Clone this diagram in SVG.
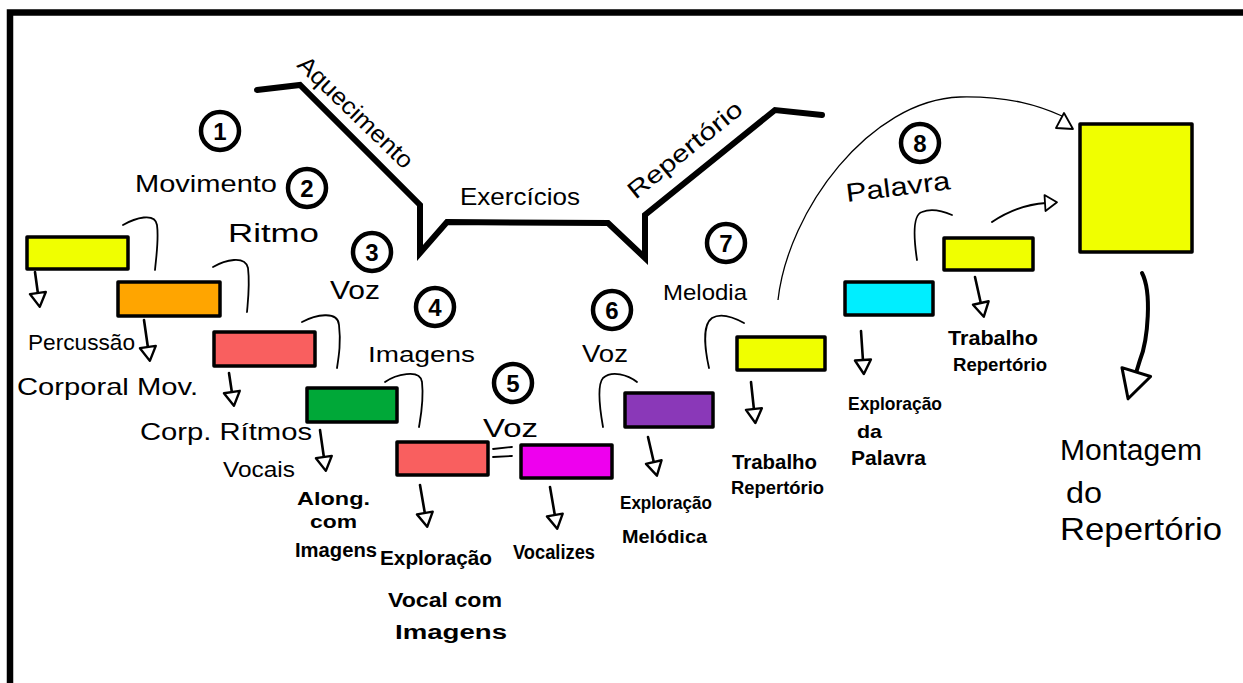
<svg xmlns="http://www.w3.org/2000/svg" width="1243" height="683" viewBox="0 0 1243 683">
<style>
.t{font-family:"Liberation Sans","DejaVu Sans",sans-serif;fill:#000}
.b{font-weight:bold}
.box{stroke:#000;stroke-width:3.5;stroke-linejoin:round}
.num circle{fill:#fff;stroke:#000;stroke-width:4.5}
.num text{font-family:"Liberation Sans","DejaVu Sans",sans-serif;font-weight:bold;font-size:24px;text-anchor:middle}
.hook{fill:none;stroke:#000;stroke-width:1.8;stroke-linecap:round}
.arr{fill:none;stroke:#000;stroke-width:2.6;stroke-linecap:round;marker-end:url(#tri)}
</style>
<defs>
<marker id="tri" markerUnits="userSpaceOnUse" markerWidth="18" markerHeight="20" refX="1" refY="8" orient="auto" overflow="visible">
<path d="M0,0 L14,8 L0,16 Z" fill="#fff" stroke="#000" stroke-width="2.4" stroke-linejoin="round"/>
</marker>
<marker id="triThin" markerUnits="userSpaceOnUse" markerWidth="16" markerHeight="18" refX="1" refY="8" orient="auto" overflow="visible">
<path d="M0,0 L12,8 L0,16 Z" fill="#fff" stroke="#000" stroke-width="1.8" stroke-linejoin="round"/>
</marker>
<marker id="triBig" markerUnits="userSpaceOnUse" markerWidth="34" markerHeight="34" refX="1" refY="15" orient="auto" overflow="visible">
<path d="M0,0 L28,15 L0,30 Z" fill="#fff" stroke="#000" stroke-width="3" stroke-linejoin="round"/>
</marker>
</defs>
<rect width="1243" height="683" fill="#fff"/>
<g id="frame">
<path d="M10,690 L10,12.5 L1250,12.5" fill="none" stroke="#000" stroke-width="6.5"/>
</g>
<g id="ridge">
<polyline points="257,90 300,85 420,205 420,253 447,222 608,223 645,258 645,215 775,110 822,115" fill="none" stroke="#000" stroke-width="6" stroke-linejoin="miter" stroke-linecap="round"/>
<text class="t" transform="translate(350,118) rotate(44)" text-anchor="middle" font-size="24" textLength="150" lengthAdjust="spacingAndGlyphs">Aquecimento</text>
<text class="t" x="460" y="205" font-size="24" textLength="120" lengthAdjust="spacingAndGlyphs">Exercícios</text>
<text class="t" transform="translate(690,156) rotate(-39)" text-anchor="middle" font-size="24" textLength="140" lengthAdjust="spacingAndGlyphs">Repertório</text>
</g>
<g id="connectors">
<path class="hook" d="M123,225 C135,218 155,212 157,225 C159,240 156,258 155,270"/>
<path class="hook" d="M213,267 C225,260 245,255 248,268 C250,285 248,300 247,312"/>
<path class="hook" d="M302,322 C315,315 338,310 339,325 C341,342 339,355 337,368"/>
<path class="hook" d="M385,382 C395,375 420,368 422,382 C424,400 421,415 419,427"/>
<path class="hook" d="M603,427 C600,410 597,385 603,378 C612,370 628,375 637,382"/>
<path class="hook" d="M709,368 C705,350 702,325 712,318 C722,312 735,318 744,323"/>
<path class="hook" d="M917,260 C914,240 912,215 922,212 C932,208 945,212 952,215"/>
<path class="hook" d="M493,449 L512,447 M493,457 L512,456" stroke-width="2.2"/>
<path class="arr" d="M35,272 L38,294"/>
<path class="arr" d="M144,320 L148,348"/>
<path class="arr" d="M229,373 L232,393"/>
<path class="arr" d="M320,430 L324,458"/>
<path class="arr" d="M420,485 L425,514"/>
<path class="arr" d="M550,487 L555,516"/>
<path class="arr" d="M648,437 L654,463"/>
<path class="arr" d="M751,382 L754,410"/>
<path class="arr" d="M861,331 L863,361"/>
<path class="arr" d="M975,277 L981,304"/>
<path d="M778,300 C788,210 870,100 960,97 C1010,96 1040,106 1062,116" fill="none" stroke="#000" stroke-width="1.3"/>
<polygon points="1056,128 1064,113 1073,129" fill="#fff" stroke="#000" stroke-width="1.8" stroke-linejoin="round"/>
<path d="M992,222 C1010,210 1030,204 1046,203" fill="none" stroke="#000" stroke-width="2" stroke-linecap="round" marker-end="url(#triThin)"/>
<path d="M1142,273 C1152,292 1148,340 1140,360 L1136,373" fill="none" stroke="#000" stroke-width="4" stroke-linecap="round" marker-end="url(#triBig)"/>
</g>
<g id="n1"><rect class="box" x="27" y="237" width="101" height="32" fill="#f0ff00"/>
<g class="num"><circle cx="220" cy="131" r="19"/><text x="220" y="140">1</text></g>
<text class="t" x="135" y="192" font-size="24" textLength="142" lengthAdjust="spacingAndGlyphs">Movimento</text>
<text class="t" x="28" y="350" font-size="22" textLength="107" lengthAdjust="spacingAndGlyphs">Percussão</text>
<text class="t" x="17" y="395" font-size="24" textLength="181" lengthAdjust="spacingAndGlyphs">Corporal Mov.</text>
</g>
<g id="n2"><rect class="box" x="118" y="282" width="102" height="34" fill="#ffa500"/>
<g class="num"><circle cx="307" cy="188" r="19"/><text x="307" y="197">2</text></g>
<text class="t" x="228" y="242" font-size="26" textLength="91" lengthAdjust="spacingAndGlyphs">Ritmo</text>
<text class="t" x="140" y="440" font-size="24" textLength="172" lengthAdjust="spacingAndGlyphs">Corp. Rítmos</text>
<text class="t" x="223" y="477" font-size="22" textLength="72" lengthAdjust="spacingAndGlyphs">Vocais</text>
</g>
<g id="n3"><rect class="box" x="214" y="332" width="101" height="34" fill="#f95f5f"/>
<g class="num"><circle cx="372" cy="252" r="19"/><text x="372" y="261">3</text></g>
<text class="t" x="330" y="299" font-size="26" textLength="50" lengthAdjust="spacingAndGlyphs">Voz</text>
</g>
<g id="n4"><rect class="box" x="307" y="388" width="90" height="34" fill="#00a838"/>
<g class="num"><circle cx="435" cy="307" r="19"/><text x="435" y="316">4</text></g>
<text class="t" x="368" y="362" font-size="22" textLength="107" lengthAdjust="spacingAndGlyphs">Imagens</text>
<text class="t b" x="297" y="505" font-size="19" textLength="73" lengthAdjust="spacingAndGlyphs">Along.</text>
<text class="t b" x="310" y="528" font-size="19" textLength="47" lengthAdjust="spacingAndGlyphs">com</text>
<text class="t b" x="295" y="557" font-size="20" textLength="82" lengthAdjust="spacingAndGlyphs">Imagens</text>
</g>
<g id="n5"><rect class="box" x="397" y="442" width="91" height="33" fill="#f95f5f"/>
<g class="num"><circle cx="513" cy="383" r="19"/><text x="513" y="392">5</text></g>
<text class="t" x="483" y="437" font-size="26" textLength="55" lengthAdjust="spacingAndGlyphs">Voz</text>
<text class="t b" x="380" y="565" font-size="20" textLength="112" lengthAdjust="spacingAndGlyphs">Exploração</text>
<text class="t b" x="388" y="607" font-size="20" textLength="114" lengthAdjust="spacingAndGlyphs">Vocal com</text>
<text class="t b" x="395" y="639" font-size="20" textLength="112" lengthAdjust="spacingAndGlyphs">Imagens</text>
</g>
<g id="n6"><rect class="box" x="521" y="445" width="91" height="33" fill="#ee00ee"/>
<text class="t b" x="513" y="559" font-size="20" textLength="82" lengthAdjust="spacingAndGlyphs">Vocalizes</text>
</g>
<g id="n7"><rect class="box" x="625" y="393" width="88" height="34" fill="#8a38b8"/>
<g class="num"><circle cx="612" cy="310" r="19"/><text x="612" y="319">6</text></g>
<text class="t" x="582" y="362" font-size="24" textLength="46" lengthAdjust="spacingAndGlyphs">Voz</text>
<text class="t b" x="620" y="509" font-size="19" textLength="92" lengthAdjust="spacingAndGlyphs">Exploração</text>
<text class="t b" x="622" y="543" font-size="19" textLength="85" lengthAdjust="spacingAndGlyphs">Melódica</text>
</g>
<g id="n8"><rect class="box" x="737" y="337" width="88" height="33" fill="#f0ff00"/>
<g class="num"><circle cx="726" cy="243" r="19"/><text x="726" y="252">7</text></g>
<text class="t" x="663" y="300" font-size="22" textLength="84" lengthAdjust="spacingAndGlyphs">Melodia</text>
<text class="t b" x="732" y="469" font-size="20" textLength="85" lengthAdjust="spacingAndGlyphs">Trabalho</text>
<text class="t b" x="731" y="494" font-size="19" textLength="93" lengthAdjust="spacingAndGlyphs">Repertório</text>
</g>
<g id="n9"><rect class="box" x="845" y="282" width="88" height="33" fill="#00eeff"/>
<text class="t b" x="848" y="410" font-size="19" textLength="94" lengthAdjust="spacingAndGlyphs">Exploração</text>
<text class="t b" x="857" y="438" font-size="19" textLength="25" lengthAdjust="spacingAndGlyphs">da</text>
<text class="t b" x="851" y="465" font-size="20" textLength="75" lengthAdjust="spacingAndGlyphs">Palavra</text>
</g>
<g id="n10"><rect class="box" x="944" y="238" width="89" height="32" fill="#f0ff00"/>
<g class="num"><circle cx="920" cy="143" r="19"/><text x="920" y="152">8</text></g>
<text class="t" transform="translate(847,202) rotate(-7)" font-size="26" textLength="105" lengthAdjust="spacingAndGlyphs">Palavra</text>
<text class="t b" x="948" y="345" font-size="20" textLength="90" lengthAdjust="spacingAndGlyphs">Trabalho</text>
<text class="t b" x="953" y="371" font-size="19" textLength="94" lengthAdjust="spacingAndGlyphs">Repertório</text>
</g>
<g id="n11"><rect class="box" x="1080" y="124" width="112" height="128" fill="#f0ff00" stroke-width="4"/>
<text class="t" x="1060" y="460" font-size="30" textLength="142" lengthAdjust="spacingAndGlyphs">Montagem</text>
<text class="t" x="1066" y="503" font-size="30" textLength="36" lengthAdjust="spacingAndGlyphs">do</text>
<text class="t" x="1060" y="540" font-size="32" textLength="162" lengthAdjust="spacingAndGlyphs">Repertório</text>
</g>
</svg>
